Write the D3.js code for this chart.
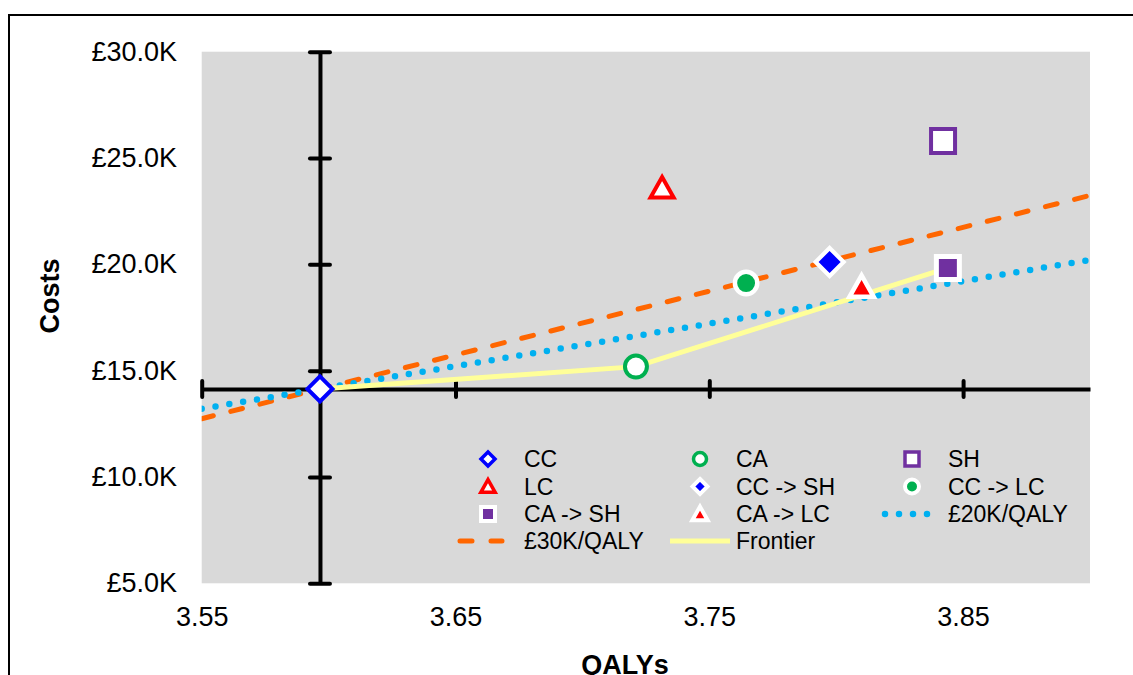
<!doctype html>
<html>
<head>
<meta charset="utf-8">
<title>Cost-effectiveness plane</title>
<script src="https://d3js.org/d3.v7.min.js"></script>
<style>
  body { margin: 0; background: #fff; }
  svg { display: block; font-family: "Liberation Sans", Arial, sans-serif; }
</style>
</head>
<body>
<script>
// strategies (QALYs, costs in £K)
var strategies = ["CC", "CA", "SH", "LC", "CC -> SH", "CC -> LC", "CA -> SH", "CA -> LC"];
var qalys = [3.5966, 3.7211, 3.8421, 3.7314, 3.7974, 3.7645, 3.8440, 3.8100];
var costs = [14.14, 15.19, 25.80, 23.59, 20.11, 19.12, 19.83, 18.94];

// willingness-to-pay lines, end points at the plot edges
var wtpQalys = [3.55, 3.90];
var wtp30Costs = [12.74, 23.24];
var wtp20Costs = [13.21, 20.21];

var frontier = ["CC", "CA", "CA -> SH"];

var xTicks = [3.55, 3.65, 3.75, 3.85];
var yTicks = [5, 10, 15, 20, 25, 30];

var W = 1133, H = 675;
var plotL = 201.7, plotR = 1090, plotT = 51.7, plotB = 583.3;

var x = d3.scaleLinear().domain([3.55, 3.90]).range([plotL, plotR]);
var y = d3.scaleLinear().domain([5, 30]).range([plotB, plotT]);

var svg = d3.select("body").append("svg")
    .attr("width", W)
    .attr("height", H);

// outer chart frame (runs off the window at right and bottom)
svg.append("rect")
    .attr("x", 9).attr("y", 15)
    .attr("width", 1200).attr("height", 800)
    .attr("fill", "none")
    .attr("stroke", "#000")
    .attr("stroke-width", 2);

svg.append("rect")
    .attr("x", plotL).attr("y", plotT)
    .attr("width", plotR - plotL).attr("height", plotB - plotT)
    .attr("fill", "#d9d9d9");

svg.append("clipPath").attr("id", "plot")
  .append("rect")
    .attr("x", plotL).attr("y", plotT)
    .attr("width", plotR - plotL).attr("height", plotB - plotT);

// marker shapes
function diamond(h) {
  return "M0," + (-h) + "L" + h + ",0L0," + h + "L" + (-h) + ",0Z";
}
function square(h) {
  return "M" + (-h) + "," + (-h) + "H" + h + "V" + h + "H" + (-h) + "Z";
}
function triangle(h) {
  return "M0," + (-h * 1.05) + "L" + (h * 1.1) + "," + (h * 0.9) + "L" + (-h * 1.1) + "," + (h * 0.9) + "Z";
}
function circle(h) {
  return d3.arc()({ innerRadius: 0, outerRadius: h, startAngle: 0, endAngle: 2 * Math.PI });
}

var styles = {
  "CC":       { shape: diamond,  fill: "#fff",    stroke: "#0000ff", h: 12.5, w: 4,   lh: 7,   lw: 3.5 },
  "CA":       { shape: circle,   fill: "#fff",    stroke: "#00b050", h: 11,   w: 4,   lh: 6.5, lw: 3.5 },
  "SH":       { shape: square,   fill: "#fff",    stroke: "#7030a0", h: 12,   w: 4,   lh: 7,   lw: 3.5 },
  "LC":       { shape: triangle, fill: "#fff",    stroke: "#ff0000", h: 10.5, w: 4,   lh: 6.5, lw: 3.5 },
  "CC -> SH": { shape: diamond,  fill: "#0000ff", stroke: "#fff",    h: 14,   w: 4.2, lh: 7.5, lw: 4 },
  "CC -> LC": { shape: circle,   fill: "#00b050", stroke: "#fff",    h: 11.2, w: 4.5, lh: 7,   lw: 4 },
  "CA -> SH": { shape: square,   fill: "#7030a0", stroke: "#fff",    h: 11.5, w: 5,   lh: 7,   lw: 4 },
  "CA -> LC": { shape: triangle, fill: "#ff0000", stroke: "#fff",    h: 11,   w: 4.5, lh: 7,   lw: 4 }
};

var ccQ = qalys[0], ccC = costs[0];

// tick labels at the plot edges
var yLab = svg.append("g")
    .attr("transform", "translate(177,0)")
    .call(d3.axisLeft(y).tickValues(yTicks).tickSize(0).tickPadding(0)
      .tickFormat(function(d) { return "£" + d3.format(".1f")(d) + "K"; }));
yLab.select(".domain").remove();
yLab.selectAll("text").attr("font-size", 27).attr("font-family", "Liberation Sans, Arial, sans-serif").attr("fill", "#000");

var xLab = svg.append("g")
    .attr("transform", "translate(0," + plotB + ")")
    .call(d3.axisBottom(x).tickValues(xTicks).tickSize(0).tickPadding(23.7)
      .tickFormat(d3.format(".2f")));
xLab.select(".domain").remove();
xLab.selectAll("text").attr("font-size", 27).attr("font-family", "Liberation Sans, Arial, sans-serif").attr("fill", "#000");

// crossing axes through CC
var xAx = svg.append("g")
    .attr("transform", "translate(0," + y(ccC) + ")")
    .call(d3.axisBottom(x).tickValues(xTicks).tickSizeInner(16).tickSizeOuter(0).tickFormat(""));
xAx.select(".domain").attr("stroke", "#000").attr("stroke-width", 4);
xAx.selectAll(".tick line").attr("y1", -8).attr("y2", 8)
    .attr("stroke", "#000").attr("stroke-width", 4).attr("stroke-linecap", "round");

var yAx = svg.append("g")
    .attr("transform", "translate(" + x(ccQ) + ",0)")
    .call(d3.axisLeft(y).tickValues(yTicks).tickSizeInner(20).tickSizeOuter(0).tickFormat(""));
yAx.select(".domain").attr("stroke", "#000").attr("stroke-width", 4);
yAx.selectAll(".tick line").attr("x1", 10).attr("x2", -10)
    .attr("stroke", "#000").attr("stroke-width", 4).attr("stroke-linecap", "round");

// threshold lines and frontier
var line = d3.line()
    .x(function(d) { return x(d[0]); })
    .y(function(d) { return y(d[1]); });

var lines = svg.append("g").attr("clip-path", "url(#plot)");

lines.append("path")
    .attr("d", line(d3.zip(wtpQalys, wtp30Costs)))
    .attr("fill", "none")
    .attr("stroke", "#ff6600")
    .attr("stroke-width", 5)
    .attr("stroke-linecap", "round")
    .attr("stroke-dasharray", "12 18");

lines.append("path")
    .attr("d", line(d3.zip(wtpQalys, wtp20Costs)))
    .attr("fill", "none")
    .attr("stroke", "#00b0f0")
    .attr("stroke-width", 6.5)
    .attr("stroke-linecap", "round")
    .attr("stroke-dasharray", "0 14");

var frontierPts = frontier.map(function(s) {
  var i = strategies.indexOf(s);
  return [qalys[i], costs[i]];
});
lines.append("path")
    .attr("d", line(frontierPts))
    .attr("fill", "none")
    .attr("stroke", "#ffff99")
    .attr("stroke-width", 5);

// markers
svg.append("g").selectAll("path")
    .data(strategies)
    .enter()
    .append("path")
    .attr("transform", function(d, i) { return "translate(" + x(qalys[i]) + "," + y(costs[i]) + ")"; })
    .attr("d", function(d) { return styles[d].shape(styles[d].h); })
    .attr("fill", function(d) { return styles[d].fill; })
    .attr("stroke", function(d) { return styles[d].stroke; })
    .attr("stroke-width", function(d) { return styles[d].w; });

// legend
var legendItems = strategies.slice(0, 3)
    .concat(["LC", "CC -> SH", "CC -> LC", "CA -> SH", "CA -> LC", "£20K/QALY", "£30K/QALY", "Frontier"]);
var colX = [488, 700, 912];
var rowY = [459, 486.5, 514, 541];

var leg = svg.append("g");
legendItems.forEach(function(name, k) {
  var cx = colX[k % 3], cy = rowY[Math.floor(k / 3)];
  var g = leg.append("g").attr("transform", "translate(" + cx + "," + cy + ")");
  if (styles[name]) {
    var s = styles[name];
    g.append("path").attr("d", s.shape(s.lh))
        .attr("fill", s.fill).attr("stroke", s.stroke).attr("stroke-width", s.lw);
  } else if (name === "£20K/QALY") {
    g.append("line").attr("x1", -27).attr("x2", 29).attr("y1", 0).attr("y2", 0)
        .attr("stroke", "#00b0f0").attr("stroke-width", 6.5)
        .attr("stroke-linecap", "round").attr("stroke-dasharray", "0 14");
  } else if (name === "£30K/QALY") {
    g.append("line").attr("x1", -28).attr("x2", 14).attr("y1", 0).attr("y2", 0)
        .attr("stroke", "#ff6600").attr("stroke-width", 5)
        .attr("stroke-linecap", "round").attr("stroke-dasharray", "12 19");
  } else {
    g.append("line").attr("x1", -30).attr("x2", 30).attr("y1", 0).attr("y2", 0)
        .attr("stroke", "#ffff99").attr("stroke-width", 5);
  }
  g.append("text")
      .attr("x", 36)
      .attr("y", 8)
      .attr("font-size", 23)
      .attr("fill", "#000")
      .text(name);
});

// axis titles
svg.append("text")
    .attr("transform", "translate(59,296) rotate(-90)")
    .attr("text-anchor", "middle")
    .attr("font-size", 27)
    .attr("font-weight", "bold")
    .text("Costs");

svg.append("text")
    .attr("x", 625)
    .attr("y", 674)
    .attr("text-anchor", "middle")
    .attr("font-size", 27)
    .attr("font-weight", "bold")
    .text("QALYs");
</script>
</body>
</html>
